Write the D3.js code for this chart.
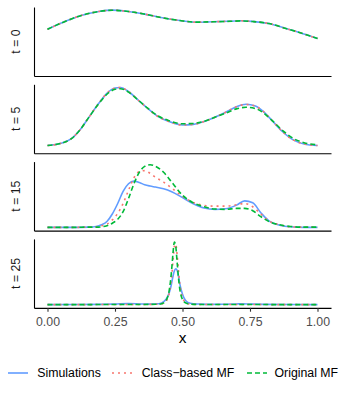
<!DOCTYPE html>
<html><head><meta charset="utf-8">
<script src="https://cdn.jsdelivr.net/npm/d3@7"></script>
<style>body{margin:0;background:#fff}svg{display:block}text{font-family:"Liberation Sans",Arial,Helvetica,sans-serif}</style>
</head><body><svg id="c" width="339" height="393"></svg>
<script>
// ---- data ----
const panelLabels = ["t = 0", "t = 5", "t = 15", "t = 25"];
const seriesNames = ["Simulations", "Class\u2212based MF", "Original MF"];
const xTicks = [0, 0.25, 0.5, 0.75, 1];
const xTickLabels = ["0.00", "0.25", "0.50", "0.75", "1.00"];
const xTitle = "x";

// t = 0
const x_t0   = [0, 0.08, 0.125, 0.19, 0.24, 0.30, 0.36, 0.42, 0.49, 0.55, 0.61, 0.68, 0.72, 0.76, 0.82, 0.88, 0.93, 1.0];
const sim_t0 = [0.911, 1.108, 1.199, 1.282, 1.310, 1.282, 1.226, 1.156, 1.093, 1.058, 1.066, 1.079, 1.087, 1.073, 1.031, 0.932, 0.849, 0.716];
const cmf_t0 = [0.911, 1.108, 1.199, 1.282, 1.310, 1.282, 1.226, 1.156, 1.093, 1.058, 1.066, 1.079, 1.087, 1.073, 1.031, 0.932, 0.849, 0.716];
const omf_t0 = [0.911, 1.108, 1.199, 1.282, 1.308, 1.282, 1.226, 1.156, 1.093, 1.060, 1.066, 1.078, 1.085, 1.072, 1.031, 0.932, 0.849, 0.716];

// t = 5
const x_t5   = [0, 0.05, 0.09, 0.12, 0.155, 0.19, 0.22, 0.25, 0.27, 0.30, 0.335, 0.37, 0.41, 0.45, 0.50, 0.54, 0.58, 0.62, 0.66, 0.70, 0.735, 0.77, 0.80, 0.83, 0.87, 0.91, 0.95, 1.0];
const sim_t5 = [0.15, 0.22, 0.38, 0.65, 1.08, 1.51, 1.83, 2.00, 2.02, 1.89, 1.62, 1.35, 1.08, 0.92, 0.81, 0.83, 0.92, 1.06, 1.22, 1.40, 1.48, 1.42, 1.24, 0.97, 0.60, 0.33, 0.20, 0.15];
const cmf_t5 = [0.15, 0.22, 0.38, 0.65, 1.08, 1.51, 1.83, 2.00, 2.02, 1.89, 1.62, 1.35, 1.08, 0.92, 0.81, 0.83, 0.92, 1.06, 1.22, 1.40, 1.47, 1.42, 1.24, 0.97, 0.60, 0.33, 0.20, 0.15];
const omf_t5 = [0.15, 0.22, 0.38, 0.65, 1.08, 1.50, 1.80, 1.96, 1.98, 1.87, 1.62, 1.36, 1.10, 0.95, 0.85, 0.86, 0.93, 1.06, 1.19, 1.33, 1.38, 1.34, 1.20, 0.97, 0.64, 0.38, 0.24, 0.17];

// t = 15
const x_t15   = [0, 0.1, 0.15, 0.18, 0.2, 0.22, 0.24, 0.26, 0.28, 0.3, 0.32, 0.34, 0.36, 0.38, 0.4, 0.43, 0.46, 0.5, 0.54, 0.58, 0.62, 0.66, 0.7, 0.73, 0.76, 0.79, 0.82, 0.86, 0.9, 0.95, 1.0];
const sim_t15 = [0.005, 0.005, 0.016, 0.047, 0.126, 0.283, 0.644, 1.146, 1.728, 2.089, 2.215, 2.152, 2.042, 1.979, 1.932, 1.853, 1.712, 1.429, 1.131, 0.927, 0.864, 0.895, 1.068, 1.272, 1.178, 0.707, 0.314, 0.110, 0.031, 0.005, 0.005];
const cmf_t15 = [0.005, 0.005, 0.016, 0.031, 0.079, 0.157, 0.361, 0.675, 1.147, 1.775, 2.372, 2.670, 2.717, 2.592, 2.403, 2.168, 1.885, 1.492, 1.194, 1.052, 1.021, 1.021, 1.084, 1.147, 0.990, 0.644, 0.314, 0.126, 0.031, 0.016, 0.016];
const omf_t15 = [0.005, 0.005, 0.016, 0.016, 0.031, 0.079, 0.204, 0.393, 0.754, 1.382, 2.089, 2.639, 2.921, 3.000, 2.921, 2.639, 2.168, 1.539, 1.178, 0.990, 0.880, 0.864, 0.911, 0.911, 0.801, 0.518, 0.283, 0.126, 0.047, 0.016, 0.016];

// t = 25
const x_t25   = [0, 0.1, 0.2, 0.25, 0.3, 0.35, 0.38, 0.40, 0.42, 0.43, 0.44, 0.45, 0.455, 0.46, 0.465, 0.47, 0.475, 0.48, 0.485, 0.49, 0.50, 0.51, 0.52, 0.54, 0.57, 0.6, 0.65, 0.7, 0.72, 0.75, 0.8, 0.9, 1.0];
const sim_t25 = [0.03, 0.04, 0.08, 0.14, 0.24, 0.14, 0.12, 0.16, 0.30, 0.60, 1.10, 2.20, 3.00, 4.20, 5.50, 6.50, 6.90, 6.60, 5.50, 4.00, 2.00, 0.90, 0.45, 0.20, 0.12, 0.08, 0.10, 0.15, 0.18, 0.14, 0.08, 0.04, 0.03];
const cmf_t25 = [0.03, 0.03, 0.04, 0.05, 0.06, 0.06, 0.07, 0.09, 0.15, 0.30, 0.70, 2.00, 3.40, 5.50, 8.50, 11.2, 11.6, 9.60, 6.60, 4.00, 1.40, 0.50, 0.20, 0.09, 0.06, 0.05, 0.05, 0.05, 0.05, 0.05, 0.04, 0.03, 0.03];
const omf_t25 = [0.03, 0.03, 0.04, 0.05, 0.06, 0.06, 0.07, 0.09, 0.15, 0.35, 0.90, 2.50, 4.30, 6.80, 10.0, 12.0, 11.2, 8.20, 5.20, 3.00, 1.00, 0.40, 0.18, 0.08, 0.06, 0.05, 0.05, 0.05, 0.05, 0.05, 0.04, 0.03, 0.03];

const panels = [
  {label: panelLabels[0], x: x_t0,  series: [sim_t0,  cmf_t0,  omf_t0]},
  {label: panelLabels[1], x: x_t5,  series: [sim_t5,  cmf_t5,  omf_t5]},
  {label: panelLabels[2], x: x_t15, series: [sim_t15, cmf_t15, omf_t15]},
  {label: panelLabels[3], x: x_t25, series: [sim_t25, cmf_t25, omf_t25]}
];

// ---- styles ----
const colors = ["#619CFF", "#F8766D", "#00BA38"];
const dashes = [null, "2,4", "5,3"];
const lw = 1.6;

// ---- layout ----
const svg = d3.select("#c");
const left = 34, right = 331;
const top0 = 7, H = 69, gap = 8.3;
const pad = H * 0.05 / 1.1;

const x = d3.scaleLinear().domain([-0.05, 1.05]).range([left, right]);

panels.forEach((p, i) => {
  const top = top0 + i * (H + gap);
  const bottom = top + H;
  const ymax = d3.max(p.series, s => d3.max(s));
  const y = d3.scaleLinear().domain([0, ymax]).range([bottom - pad, top + pad]);
  const g = svg.append("g");

  const line = d3.line().x((d, k) => x(p.x[k])).y(d => y(d)).curve(d3.curveMonotoneX);
  p.series.forEach((s, si) => {
    g.append("path").datum(s).attr("d", line)
      .attr("fill", "none").attr("stroke", colors[si]).attr("stroke-width", lw)
      .attr("stroke-dasharray", dashes[si]);
  });

  // left axis line
  const ya = g.append("g").attr("transform", `translate(${left},0)`)
    .call(d3.axisLeft(d3.scaleLinear().range([bottom, top])).tickValues([]).tickSizeOuter(0));
  ya.select(".domain").attr("stroke", "#000").attr("stroke-width", 1.1);

  // bottom axis
  const isLast = i === panels.length - 1;
  const xa = g.append("g").attr("transform", `translate(0,${bottom})`)
    .call(isLast
      ? d3.axisBottom(x).tickValues(xTicks).tickFormat((d, k) => xTickLabels[k]).tickSize(3.8).tickSizeOuter(0).tickPadding(5.4)
      : d3.axisBottom(x).tickValues([]).tickSizeOuter(0));
  xa.select(".domain").attr("stroke", "#000").attr("stroke-width", 1.1);
  xa.selectAll(".tick line").attr("stroke", "#333").attr("stroke-width", 1.1);
  xa.selectAll(".tick text").attr("fill", "#4D4D4D").style("font-size", "12.3px")
    .style("font-family", '"Liberation Sans",Arial,sans-serif');

  // strip label (left, rotated)
  g.append("text")
    .attr("transform", `translate(${19.5},${(top + bottom) / 2}) rotate(-90)`)
    .attr("text-anchor", "middle")
    .attr("fill", "#1A1A1A").style("font-size", "12.3px")
    .text(p.label);
});

// x title
svg.append("text").attr("x", (x(0) + x(1)) / 2).attr("y", 342.7)
  .attr("text-anchor", "middle").style("font-size", "15.4px").attr("fill", "#000").text(xTitle);

// legend
const legendItems = [
  {key: 8, text: 37.3},
  {key: 112, text: 141.7},
  {key: 247, text: 274.5}
];
const ly = 373;
seriesNames.forEach((name, i) => {
  const it = legendItems[i];
  svg.append("line").attr("x1", it.key).attr("x2", it.key + 20).attr("y1", ly).attr("y2", ly)
    .attr("stroke", colors[i]).attr("stroke-width", lw).attr("stroke-dasharray", dashes[i]);
  svg.append("text").attr("x", it.text).attr("y", ly + 4.4)
    .style("font-size", "12.3px").attr("fill", "#000").text(name);
});
</script></body></html>
